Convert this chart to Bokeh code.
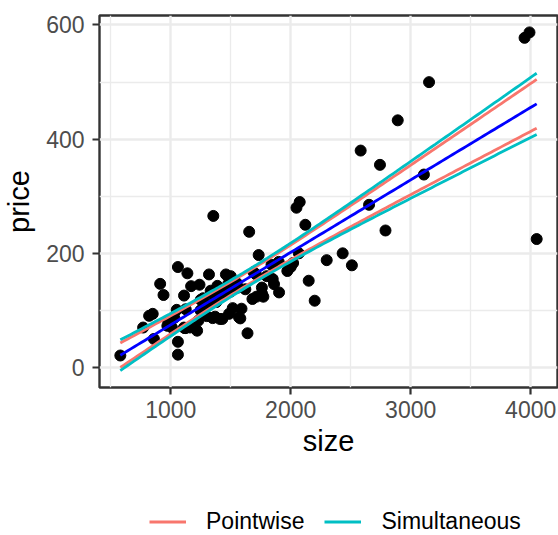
import numpy as np
from bokeh.plotting import figure
from bokeh.layouts import column
from bokeh.models import Range1d, Legend, LegendItem, FixedTicker
from bokeh.embed import file_html
from bokeh.resources import INLINE

# ---- data ----
size = [2048, 912, 1654, 2068, 1477, 3153, 1355, 2075, 3990, 1160,
        1220, 1690, 1380, 1590, 1050, 770, 1410, 1060, 1300, 1500,
        820, 3949, 1170, 1500, 2790, 1030, 1250, 1760, 1550, 1120,
        2000, 1350, 1840, 2510, 3110, 1760, 1710, 1110, 1360, 1250,
        1250, 1480, 1520, 2020, 1010, 1640, 940, 1580, 860, 1420,
        1270, 980, 2300, 1430, 1380, 1240, 1120, 1420, 1370, 2892,
        2583, 2744, 2653, 4050, 2122, 2433, 2150, 2200, 580, 1060,
        1060, 1139, 1733, 1972, 1903, 1861, 1772, 1714, 1622, 1569,
        1517, 1460, 1389, 1333, 1111, 850, 1125, 1230, 1319, 1681,
        1486, 1850, 972, 1450, 1560, 1800, 1300, 1900]
price = [279.9, 146.5, 237.7, 200.0, 159.9, 499.9, 265.5, 289.9, 587.0, 70.0,
         64.5, 167.0, 114.6, 103.0, 101.0, 70.0, 85.0, 22.5, 90.0, 133.0,
         90.5, 577.5, 142.5, 160.0, 240.0, 87.0, 118.6, 140.0, 148.0, 69.0,
         176.0, 86.5, 180.0, 179.0, 338.0, 130.0, 163.2, 69.9, 125.0, 100.0,
         100.0, 146.5, 144.9, 183.0, 69.9, 60.0, 127.0, 86.0, 50.0, 137.0,
         121.3, 81.0, 188.0, 85.0, 137.0, 145.0, 69.0, 125.0, 89.0, 433.0,
         380.0, 355.0, 285.0, 225.0, 250.0, 200.0, 152.0, 117.0, 21.0, 45.0,
         176.0, 165.0, 197.0, 169.0, 131.5, 146.0, 124.0, 124.0, 137.0, 88.0,
         104.0, 163.0, 143.0, 134.5, 126.0, 94.0, 102.0, 82.0, 163.0, 120.0,
         94.0, 155.0, 73.0, 128.0, 140.0, 160.0, 110.0, 185.0]
x_ticks = [1000, 2000, 3000, 4000]
x_minor = [500, 1500, 2500, 3500]
y_ticks = [0, 200, 400, 600]
y_minor = [100, 300, 500]
t_crit = 1.9845      # pointwise 95%
wh_crit = 2.4857     # simultaneous (Working-Hotelling) 95%
legend_labels = ["Pointwise", "Simultaneous"]
band_colors = ["#F8766D", "#00BFC4"]

# ---- least-squares fit and bands ----
x = np.array(size, float)
y = np.array(price, float)
n = len(x)
X = np.column_stack([np.ones(n), x])
beta = np.linalg.lstsq(X, y, rcond=None)[0]
res = y - X @ beta
s = np.sqrt(res @ res / (n - 2))
xbar = x.mean()
sxx = ((x - xbar) ** 2).sum()
grid = np.linspace(x.min(), x.max(), 120)
fit = beta[0] + beta[1] * grid
se = s * np.sqrt(1.0 / n + (grid - xbar) ** 2 / sxx)
pw_lo, pw_hi = fit - t_crit * se, fit + t_crit * se
sm_lo, sm_hi = fit - wh_crit * se, fit + wh_crit * se

xr = x.max() - x.min()
allv = np.concatenate([y, sm_lo, sm_hi])
yr = allv.max() - allv.min()

p = figure(width=558, height=470, output_backend="svg", toolbar_location=None,
           x_range=Range1d(x.min() - 0.05 * xr, x.max() + 0.05 * xr),
           y_range=Range1d(allv.min() - 0.05 * yr, allv.max() + 0.05 * yr),
           min_border_left=99, min_border_right=1, min_border_top=15,
           min_border_bottom=83)
p.background_fill_color = "white"
p.border_fill_color = "white"
p.outline_line_color = "#333333"
p.outline_line_width = 2.4

font = "Liberation Sans"
p.xaxis.ticker = FixedTicker(ticks=x_ticks, minor_ticks=x_minor)
p.yaxis.ticker = FixedTicker(ticks=y_ticks, minor_ticks=y_minor)
for ax in (p.xaxis, p.yaxis):
    ax.axis_line_color = None
    ax.major_tick_line_color = "#333333"
    ax.major_tick_line_width = 2.2
    ax.major_tick_out = 7
    ax.major_tick_in = 0
    ax.minor_tick_line_color = None
    ax.major_label_text_font = font
    ax.major_label_text_font_size = "23px"
    ax.major_label_text_color = "#4D4D4D"
    ax.axis_label_text_font = font
    ax.axis_label_text_font_size = "29px"
    ax.axis_label_text_font_style = "normal"
    ax.axis_label_text_color = "black"
p.xaxis.axis_label = "size"
p.yaxis.axis_label = "price"
p.xaxis.major_label_standoff = 6
p.yaxis.major_label_standoff = 8
p.xaxis.axis_label_standoff = 4
p.yaxis.axis_label_standoff = 8

for g in (p.xgrid, p.ygrid):
    g.grid_line_color = "#EBEBEB"
    g.grid_line_width = 2.4
    g.minor_grid_line_color = "#EBEBEB"
    g.minor_grid_line_width = 1.3

p.scatter(x, y, size=11, color="black")
p.line(grid, fit, line_color="blue", line_width=2.8)
p.line(grid, pw_hi, line_color=band_colors[0], line_width=2.8)
p.line(grid, pw_lo, line_color=band_colors[0], line_width=2.8)
p.line(grid, sm_hi, line_color=band_colors[1], line_width=2.8)
p.line(grid, sm_lo, line_color=band_colors[1], line_width=2.8)

# ---- legend strip below the plot (its lines lie outside its own range) ----
q = figure(width=558, height=65, output_backend="svg", toolbar_location=None,
           x_axis_type=None, y_axis_type=None, min_border=0,
           x_range=Range1d(0, 1), y_range=Range1d(0, 1))
q.outline_line_color = None
q.background_fill_color = "white"
q.border_fill_color = "white"
q.xgrid.visible = False
q.ygrid.visible = False
r_pw = q.line(grid, pw_hi, line_color=band_colors[0], line_width=2.8)
r_sm = q.line(grid, sm_hi, line_color=band_colors[1], line_width=2.8)
legend = Legend(items=[LegendItem(label=legend_labels[0], renderers=[r_pw]),
                       LegendItem(label=legend_labels[1], renderers=[r_sm])],
                location=(50, 0), orientation="horizontal",
                glyph_width=37, glyph_height=23, label_height=23,
                label_standoff=20, spacing=20, padding=0, margin=0,
                border_line_color=None, background_fill_alpha=0,
                label_text_font=font, label_text_font_size="23px",
                label_text_color="black")
q.add_layout(legend, "center")

open("out.html", "w").write(file_html(column(p, q, spacing=0), INLINE))
